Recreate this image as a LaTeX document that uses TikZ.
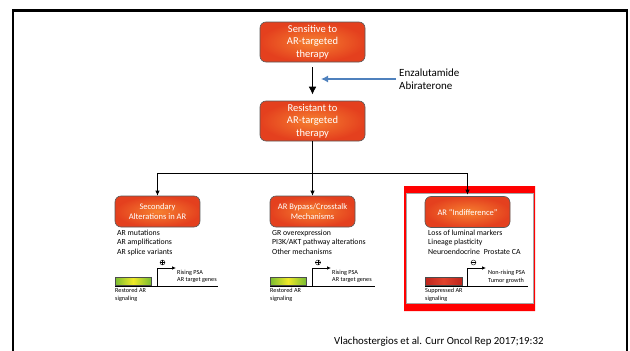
\documentclass[tikz,border=0pt]{standalone}
\usepackage{fontspec}
\setmainfont{Carlito}
\usetikzlibrary{arrows.meta}
\definecolor{boxin}{RGB}{246,128,48}
\definecolor{boxout}{RGB}{228,64,30}
\definecolor{drugblue}{RGB}{79,129,189}
\definecolor{greenedge}{RGB}{120,188,50}
\definecolor{yellowmid}{RGB}{240,234,40}
\definecolor{rededge}{RGB}{190,36,28}
\definecolor{redmid}{RGB}{224,66,44}
\begin{document}
\begin{tikzpicture}[x=1pt,y=-1pt,
  statebox/.style={rounded corners=6pt, draw=black!65, line width=0.6pt,
    inner color=boxin, outer color=boxout, text=white, align=center,
    minimum width=105pt, minimum height=40pt, inner sep=0pt,
    font=\fontsize{10.5}{12.5}\selectfont},
  subbox/.style={statebox, minimum width=85pt, minimum height=31pt,
    font=\fontsize{8.5}{10.5}\selectfont},
  listtext/.style={anchor=north west, align=left, inner sep=0pt,
    font=\fontsize{7.8}{9.5}\selectfont},
  genetext/.style={anchor=west, inner sep=0pt, font=\fontsize{6.2}{7}\selectfont},
  conn/.style={draw=black, line width=0.8pt},
  connarrow/.style={conn, -{Latex[length=5pt,width=4.5pt]}},
  bigarrow/.style={draw=black, line width=1.8pt, -{Latex[length=8pt,width=8pt]}},
  bluearrow/.style={draw=drugblue, line width=1.3pt, -{Latex[length=7pt,width=7pt]}},
  promo/.style={draw=black, line width=0.7pt, -{Latex[length=4pt,width=3.5pt]}},
  baseline/.style={draw=black, line width=0.8pt},
  signcirc/.style={circle, draw=black, line width=0.4pt, minimum size=5pt, inner sep=0pt},
  barnode/.style={rectangle, draw=black!70, line width=0.5pt, minimum width=36pt,
    minimum height=8.5pt, inner sep=0pt},
  greenbar/.style={barnode, left color=greenedge, right color=greenedge, middle color=yellowmid},
  redbar/.style={barnode, left color=rededge, right color=rededge, middle color=redmid, minimum width=37pt}
]
\useasboundingbox (0,0) rectangle (630,351);
% frame
\draw[line width=2.5pt] (13,351) -- (13,10.5) -- (627,10.5) -- (627,351);

% red highlight frame
\fill[red, even odd rule] (404,186) rectangle (535,311) (406,193) rectangle (533,303);
\draw[black!35, line width=0.4pt] (406,193) rectangle (533,303);

% main boxes
\node[statebox] (sens) at (312.5,42) {Sensitive to\\AR-targeted\\therapy};
\node[statebox] (res) at (312.5,121) {Resistant to\\AR-targeted\\therapy};
\node[subbox] (sec) at (157.5,211.5) {Secondary\\Alterations in AR};
\node[subbox] (byp) at (312.5,211.5) {AR Bypass/Crosstalk\\Mechanisms};
\node[subbox] (ind) at (467.5,212) {AR “Indifference”};

% drugs
\node[anchor=west, align=left, inner sep=0pt, font=\fontsize{11}{12.5}\selectfont] (drug) at (399,79) {Enzalutamide\\Abiraterone};
\coordinate (bluetip) at (321,79);
\draw[bluearrow] (drug.west) ++(-3,0) -- (bluetip);
\draw[bigarrow, shorten <=5pt, shorten >=6pt] (sens.south) -- (res.north);

% tree
\coordinate (split) at (312.5,173);
\draw[conn] (res.south) -- (split);
\draw[connarrow] (split) -| (sec.north);
\draw[connarrow] (split) -- (byp.north);
\draw[connarrow, shorten >=1.5pt] (split) -| (ind.north);

% lists
\node[listtext] (l1) at (117,229.5) {AR mutations\\AR amplifications\\AR splice variants};
\node[listtext] (l2) at (272,229.5) {GR overexpression\\PI3K/AKT pathway alterations\\Other mechanisms};
\node[listtext] (l3) at (428,229.5) {Loss of luminal markers\\Lineage plasticity\\Neuroendocrine\enspace Prostate CA};

% gene diagram 1
\begin{scope}[shift={(157,0)}]
  \node[greenbar] (g1) at (-24,281.25) {};
  \draw[baseline] (-42,286) -- (61,286);
  \coordinate (p1) at (0,286);
  \coordinate (t1) at (19,268);
  \draw[promo] (p1) |- (t1);
  \node[signcirc] (s1) at (5.5,262.5) {};
  \draw[line width=0.4pt] (s1.north) -- (s1.south) (s1.west) -- (s1.east);
  \node[genetext] (a1) at (20,272.5) {Rising PSA};
  \node[genetext] (b1) at (20,280.5) {AR target genes};
  \node[genetext] (c1) at (-42,290.5) {Restored AR};
  \node[genetext] (d1) at (-42,298.5) {signaling};
\end{scope}

% gene diagram 2
\begin{scope}[shift={(312,0)}]
  \node[greenbar] (g2) at (-24,281.25) {};
  \draw[baseline] (-42,286) -- (63,286);
  \coordinate (p2) at (0,286);
  \coordinate (t2) at (19,268);
  \draw[promo] (p2) |- (t2);
  \node[signcirc] (s2) at (6,262.5) {};
  \draw[line width=0.4pt] (s2.north) -- (s2.south) (s2.west) -- (s2.east);
  \node[genetext] (a2) at (20,272.5) {Rising PSA};
  \node[genetext] (b2) at (20,280.5) {AR target genes};
  \node[genetext] (c2) at (-42,290.5) {Restored AR};
  \node[genetext] (d2) at (-42,298.5) {signaling};
\end{scope}

% gene diagram 3
\begin{scope}[shift={(467,0)}]
  \node[redbar] (g3) at (-23.5,281.25) {};
  \draw[baseline] (-42,286) -- (61,286);
  \coordinate (p3) at (0,286);
  \coordinate (t3) at (19,268);
  \draw[promo] (p3) |- (t3);
  \node[signcirc] (s3) at (6.5,262.5) {};
  \draw[line width=0.4pt] (s3.west) -- (s3.east);
  \node[genetext] (a3) at (21,272.5) {Non-rising PSA};
  \node[genetext] (b3) at (21,280.5) {Tumor growth};
  \node[genetext] (c3) at (-42,290.5) {Suppressed AR};
  \node[genetext] (d3) at (-42,298.5) {signaling};
\end{scope}

% citation
\node[anchor=west, inner sep=0pt, font=\fontsize{10.8}{12}\selectfont] (cite) at (334,342) {Vlachostergios et al. Curr Oncol Rep 2017;19:32};
\end{tikzpicture}
\end{document}
